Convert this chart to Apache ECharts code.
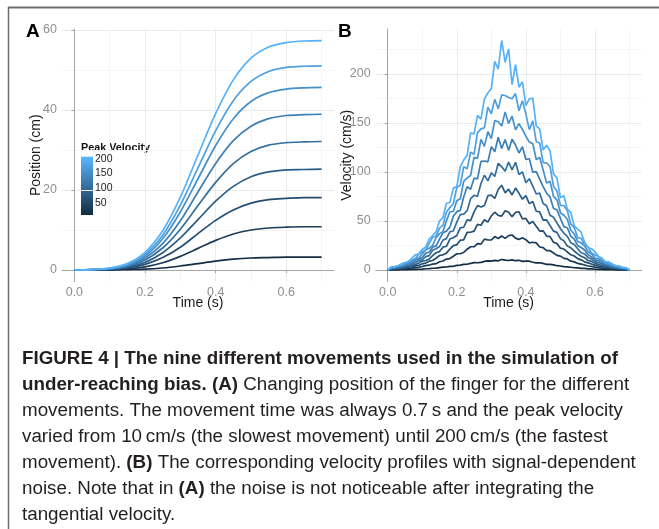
<!DOCTYPE html>
<html>
<head>
<meta charset="utf-8">
<script src="https://cdn.jsdelivr.net/npm/echarts@6/dist/echarts.min.js"></script>
<style>
  html, body { margin: 0; padding: 0; background: #fff; }
  #chart { width: 659px; height: 529px; }
</style>
</head>
<body>
<div id="chart"></div>
<script>
// peak velocity of each of the nine movements (cm/s)
const peakVelocity = [10, 34, 58, 81, 105, 129, 153, 176, 200];

// panel A: position (cm) sampled every 0.05 s
const timeA = [0, 0.05, 0.1, 0.15, 0.2, 0.25, 0.3, 0.35, 0.4, 0.45, 0.5, 0.55, 0.6, 0.65, 0.7];
const pos10 = [0, 0, 0, 0.1, 0.2, 0.5, 1.0, 1.6, 2.2, 2.7, 3.0, 3.1, 3.2, 3.2, 3.2];
const pos34 = [0, 0, 0.1, 0.3, 0.8, 1.8, 3.4, 5.4, 7.4, 9.0, 10.0, 10.5, 10.7, 10.8, 10.8];
const pos58 = [0, 0, 0.2, 0.5, 1.4, 3.1, 5.7, 9.1, 12.4, 15.0, 16.7, 17.6, 17.9, 18.1, 18.1];
const pos81 = [0, 0.1, 0.2, 0.7, 1.9, 4.3, 8.0, 12.6, 17.2, 20.9, 23.3, 24.5, 25.0, 25.1, 25.2];
const pos105 = [0, 0.1, 0.3, 0.9, 2.5, 5.5, 10.2, 16.1, 21.9, 26.6, 29.6, 31.2, 31.8, 32.0, 32.1];
const pos129 = [0, 0.1, 0.3, 1.1, 3.0, 6.6, 12.3, 19.5, 26.6, 32.3, 35.9, 37.8, 38.6, 38.8, 38.9];
const pos153 = [0, 0.1, 0.4, 1.3, 3.5, 7.8, 14.5, 22.8, 31.1, 37.8, 42.1, 44.3, 45.2, 45.5, 45.6];
const pos176 = [0, 0.1, 0.4, 1.4, 3.9, 8.7, 16.2, 25.5, 34.8, 42.3, 47.1, 49.6, 50.6, 50.9, 51.0];
const pos200 = [0, 0.1, 0.5, 1.6, 4.4, 9.8, 18.2, 28.7, 39.1, 47.5, 52.9, 55.7, 56.8, 57.2, 57.3];
const positionCurves = [pos10, pos34, pos58, pos81, pos105, pos129, pos153, pos176, pos200];

// panel B: noisy velocity (cm/s) sampled every 0.01 s
const timeB = [0, 0.01, 0.02, 0.03, 0.04, 0.05, 0.06, 0.07, 0.08, 0.09,
  0.1, 0.11, 0.12, 0.13, 0.14, 0.15, 0.16, 0.17, 0.18, 0.19,
  0.2, 0.21, 0.22, 0.23, 0.24, 0.25, 0.26, 0.27, 0.28, 0.29,
  0.3, 0.31, 0.32, 0.33, 0.34, 0.35, 0.36, 0.37, 0.38, 0.39,
  0.4, 0.41, 0.42, 0.43, 0.44, 0.45, 0.46, 0.47, 0.48, 0.49,
  0.5, 0.51, 0.52, 0.53, 0.54, 0.55, 0.56, 0.57, 0.58, 0.59,
  0.6, 0.61, 0.62, 0.63, 0.64, 0.65, 0.66, 0.67, 0.68, 0.69, 0.7];
const vel10 = [0, 0.1, 0.2, 0.2, 0.3, 0.4, 0.5, 0.6, 0.7, 0.8,
  1.0, 1.3, 1.4, 1.8, 1.9, 2.4, 2.9, 3.1, 3.7, 3.8,
  4.7, 5.0, 5.8, 5.9, 6.7, 7.6, 7.4, 7.7, 8.8, 9.4,
  9.1, 9.9, 9.4, 10.7, 10.1, 9.7, 10.4, 9.5, 9.9, 8.8,
  9.1, 9.0, 7.9, 7.3, 7.4, 6.7, 5.8, 5.7, 5.3, 4.4,
  4.1, 3.4, 3.3, 2.8, 2.3, 2.1, 1.7, 1.6, 1.2, 1.1,
  0.8, 0.7, 0.6, 0.5, 0.4, 0.3, 0.2, 0.2, 0.1, 0.1, 0];
const vel34 = [0, 0.5, 0.6, 0.8, 1.0, 1.3, 1.7, 1.9, 2.4, 2.8,
  3.6, 4.5, 4.9, 6.1, 6.5, 8.4, 9.2, 11.2, 11.7, 14.0,
  16.6, 16.6, 17.9, 21.2, 23.7, 23.7, 26.9, 26.4, 31.5, 30.6,
  30.6, 34.1, 32.2, 34.7, 32.3, 35.0, 35.7, 32.5, 31.2, 32.8,
  30.9, 27.6, 28.3, 27.7, 23.5, 22.8, 19.8, 19.7, 17.3, 14.9,
  14.2, 11.9, 11.3, 9.0, 8.3, 6.7, 6.1, 5.1, 4.1, 3.7,
  2.9, 2.5, 1.9, 1.6, 1.3, 1.0, 0.8, 0.6, 0.5, 0.4, 0];
const vel58 = [0, 0.9, 1.0, 1.4, 1.6, 2.2, 2.9, 3.3, 4.2, 4.7,
  6.3, 7.1, 9.0, 9.7, 12.0, 14.8, 15.5, 17.2, 21.4, 24.9,
  25.7, 30.4, 30.7, 38.4, 38.5, 39.7, 46.5, 45.6, 51.2, 48.9,
  55.2, 58.9, 55.7, 54.9, 60.5, 58.9, 54.4, 58.7, 59.4, 52.2,
  52.6, 47.2, 49.4, 44.5, 39.7, 39.9, 34.6, 34.1, 28.3, 26.9,
  22.3, 21.4, 18.4, 15.5, 14.3, 11.6, 10.4, 8.3, 7.3, 6.1,
  5.0, 4.1, 3.4, 2.6, 2.3, 1.7, 1.3, 1.1, 0.8, 0.7, 0];
const vel81 = [0, 1.3, 1.5, 2.0, 2.3, 3.2, 3.7, 4.9, 5.5, 7.1,
  9.1, 9.7, 11.2, 14.6, 17.6, 18.8, 23.3, 24.2, 31.6, 32.9,
  35.2, 43.0, 43.6, 51.1, 50.4, 59.3, 65.7, 64.2, 65.7, 75.8,
  76.4, 73.0, 82.1, 86.5, 78.6, 82.4, 76.5, 83.6, 78.2, 72.2,
  75.8, 67.7, 69.8, 59.9, 59.3, 50.8, 51.1, 45.3, 39.6, 38.4,
  32.0, 29.7, 24.4, 22.6, 19.4, 16.5, 14.1, 12.4, 9.7, 8.8,
  7.0, 5.5, 4.9, 3.7, 3.1, 2.3, 1.9, 1.6, 1.1, 0.9, 0];
const vel105 = [0, 1.5, 2.1, 2.4, 3.2, 4.3, 4.7, 5.7, 7.7, 9.6,
  10.7, 13.7, 14.7, 20.1, 21.6, 23.9, 30.5, 32.0, 39.0, 39.8,
  48.9, 56.4, 57.0, 60.5, 72.7, 76.2, 75.1, 88.2, 96.7, 90.9,
  99.1, 95.3, 108.8, 105.2, 100.7, 110.1, 102.1, 109.8, 97.3, 100.1,
  89.0, 93.1, 85.6, 77.5, 78.4, 67.8, 65.6, 55.9, 53.8, 48.0,
  42.3, 37.5, 34.3, 27.9, 26.1, 21.6, 17.6, 16.4, 12.7, 11.2,
  8.6, 7.5, 6.4, 4.7, 3.9, 2.9, 2.6, 2.1, 1.5, 1.2, 0];
const vel129 = [0, 1.8, 2.2, 3.2, 4.1, 4.7, 6.3, 7.0, 10.0, 11.2,
  12.7, 17.0, 18.4, 23.3, 24.6, 31.6, 37.9, 39.6, 43.7, 54.8,
  59.5, 60.7, 74.5, 84.9, 82.3, 93.6, 93.0, 110.8, 111.1, 110.3,
  125.8, 120.6, 135.3, 123.9, 133.0, 122.1, 133.4, 127.4, 119.3, 125.8,
  112.7, 113.4, 99.8, 100.3, 92.7, 85.0, 78.3, 74.5, 62.7, 61.4,
  52.6, 44.2, 43.1, 34.6, 31.6, 24.9, 22.9, 20.4, 15.5, 13.4,
  10.4, 9.5, 8.0, 5.9, 5.0, 3.5, 3.2, 2.4, 2.0, 1.4, 0];
const vel153 = [0, 2.3, 2.7, 4.0, 4.6, 5.4, 7.6, 8.5, 11.3, 12.2,
  16.3, 20.5, 22.1, 25.1, 32.9, 37.1, 39.1, 50.1, 59.4, 59.7,
  70.7, 72.6, 90.4, 93.9, 96.4, 114.8, 113.8, 133.1, 126.1, 141.0,
  133.9, 152.5, 151.1, 146.8, 161.2, 149.4, 156.8, 142.9, 149.3, 143.3,
  136.5, 130.4, 129.0, 112.6, 114.8, 101.9, 88.8, 90.4, 75.1, 71.5,
  58.3, 55.8, 51.7, 40.5, 36.7, 29.1, 27.8, 24.6, 18.6, 16.3,
  12.1, 11.4, 8.7, 7.6, 5.4, 4.6, 4.0, 2.7, 2.1, 1.8, 0];
const vel176 = [0, 2.7, 3.1, 4.3, 4.9, 6.8, 8.8, 9.9, 11.7, 16.0,
  18.6, 20.3, 27.2, 33.4, 34.7, 42.7, 45.5, 59.1, 63.6, 67.6,
  84.2, 86.4, 105.4, 103.2, 120.1, 118.0, 140.1, 143.9, 144.9, 166.1,
  159.3, 174.0, 164.1, 178.6, 177.9, 175.8, 174.6, 179.9, 162.4, 172.5,
  158.9, 143.1, 152.0, 130.8, 129.5, 109.4, 109.3, 105.4, 85.4, 80.6,
  66.0, 65.7, 60.4, 47.1, 43.2, 33.0, 32.4, 25.7, 23.3, 17.4,
  15.4, 13.7, 9.8, 7.6, 6.9, 5.7, 4.0, 3.4, 2.4, 2.2, 0];
const vel200 = [0, 3.1, 3.6, 4.4, 6.3, 7.6, 8.6, 12.1, 15.5, 16.5,
  21.2, 23.3, 31.6, 35.2, 38.8, 50.2, 53.5, 68.1, 68.8, 83.5,
  85.0, 105.2, 112.1, 117.0, 139.7, 138.8, 157.7, 153.8, 174.5, 180.5,
  185.2, 212.6, 204.8, 234.0, 211.8, 225.3, 188.9, 209.5, 186.4, 191.9,
  167.7, 174.5, 175.2, 146.7, 143.9, 122.3, 127.2, 121.4, 98.0, 93.7,
  73.8, 75.7, 62.0, 58.7, 45.1, 41.8, 38.6, 28.4, 23.0, 21.7,
  18.5, 13.8, 12.2, 8.7, 8.3, 6.0, 4.5, 4.0, 2.8, 2.3, 0];
const velocityCurves = [vel10, vel34, vel58, vel81, vel105, vel129, vel153, vel176, vel200];

// tick labels
const timeTicks = [0, 0.2, 0.4, 0.6];
const positionTicks = [0, 20, 40, 60];
const velocityTicks = [0, 50, 100, 150, 200];
const legendTicks = [50, 100, 150, 200];

const captionLines = [
  '{b|FIGURE 4 | The nine different movements used in the simulation of}',
  '{b|under-reaching bias. (A)} Changing position of the finger for the different',
  'movements. The movement time was always 0.7\u2009s and the peak velocity',
  'varied from 10\u2009cm/s (the slowest movement) until 200\u2009cm/s (the fastest',
  'movement). {b|(B)} The corresponding velocity profiles with signal-dependent',
  'noise. Note that in {b|(A)} the noise is not noticeable after integrating the',
  'tangential velocity.'
];

// ggplot default continuous colour scale
const lowColor = [19, 43, 67];
const highColor = [86, 177, 247];
function velColor(v) {
  const f = (v - 10) / (200 - 10);
  const c = lowColor.map((a, i) => Math.round(a + (highColor[i] - a) * f));
  return 'rgb(' + c.join(',') + ')';
}

const FONT = 'Liberation Sans';
const tickColor = '#a6a6a6';
const tickText = '#8f8f8f';

function xAxisFor(gridIndex) {
  return {
    type: 'value', gridIndex: gridIndex,
    min: -0.035, max: 0.735, splitNumber: 5,
    name: 'Time (s)', nameLocation: 'middle', nameGap: 14.5, nameMoveOverlap: false,
    nameTextStyle: { fontFamily: FONT, fontSize: 14, color: '#1a1a1a' },
    axisLine: { show: true, lineStyle: { color: tickColor, width: 1 } },
    axisTick: { show: true, length: 3, customValues: timeTicks, lineStyle: { color: tickColor } },
    axisLabel: {
      customValues: timeTicks, margin: 5, fontFamily: FONT, fontSize: 12.5, color: tickText,
      formatter: v => v.toFixed(1)
    },
    splitLine: { show: true, lineStyle: { color: '#ebebeb', width: 1 } },
    minorTick: { show: false, splitNumber: 2 },
    minorSplitLine: { show: true, lineStyle: { color: '#f5f5f5', width: 1 } }
  };
}

function yAxisFor(gridIndex, opts) {
  return {
    type: 'value', gridIndex: gridIndex,
    min: opts.min, max: opts.max, splitNumber: opts.splitNumber,
    name: opts.name, nameLocation: 'middle', nameGap: opts.nameGap, nameMoveOverlap: false,
    nameTextStyle: { fontFamily: FONT, fontSize: 14, color: '#1a1a1a' },
    axisLine: { show: true, lineStyle: { color: tickColor, width: 1 } },
    axisTick: { show: true, length: 3, customValues: opts.ticks, lineStyle: { color: tickColor } },
    axisLabel: { customValues: opts.ticks, margin: 5, fontFamily: FONT, fontSize: 12.5, color: tickText },
    splitLine: { show: true, lineStyle: { color: '#ebebeb', width: 1 } },
    minorTick: { show: false, splitNumber: 2 },
    minorSplitLine: { show: true, lineStyle: { color: '#f5f5f5', width: 1 } }
  };
}

const series = [];
positionCurves.forEach((arr, i) => {
  series.push({
    type: 'line', xAxisIndex: 0, yAxisIndex: 0, showSymbol: false, smooth: 0.3,
    lineStyle: { width: 1.7, color: velColor(peakVelocity[i]) },
    data: timeA.map((t, k) => [t, arr[k]])
  });
});
velocityCurves.forEach((arr, i) => {
  series.push({
    type: 'line', xAxisIndex: 1, yAxisIndex: 1, showSymbol: false,
    lineStyle: { width: 1.7, color: velColor(peakVelocity[i]) },
    data: timeB.map((t, k) => [t, arr[k]])
  });
});

const graphics = [
  // figure frame
  { type: 'line', shape: { x1: 8, y1: 7.5, x2: 659, y2: 7.5 }, style: { stroke: '#6e6e6e', lineWidth: 2 } },
  { type: 'line', shape: { x1: 8.5, y1: 7, x2: 8.5, y2: 529 }, style: { stroke: '#6e6e6e', lineWidth: 1.5 } },
  // panel letters
  { type: 'text', style: { x: 26, y: 31.7, text: 'A', fontFamily: FONT, fontWeight: 'bold', fontSize: 19, fill: '#000', verticalAlign: 'middle' } },
  { type: 'text', style: { x: 338, y: 32, text: 'B', fontFamily: FONT, fontWeight: 'bold', fontSize: 19, fill: '#000', verticalAlign: 'middle' } },
  // legend title
  { type: 'text', style: { x: 81, y: 148.5, text: 'Peak Velocity', fontFamily: FONT, fontWeight: 'bold', fontSize: 10.8, fill: '#111', verticalAlign: 'middle' } }
];
captionLines.forEach((line, i) => {
  graphics.push({
    type: 'text',
    style: {
      x: 22, y: 365 - 6.6 + i * 26, text: line, verticalAlign: 'middle',
      fontFamily: FONT, fontSize: 18.8, fill: '#231f20',
      rich: { b: { fontFamily: FONT, fontSize: 18.8, fontWeight: 'bold', fill: '#231f20' } }
    }
  });
});

const chart = echarts.init(document.getElementById('chart'), null, { renderer: 'canvas' });
chart.setOption({
  animation: false,
  backgroundColor: '#fff',
  grid: [
    { left: 62, top: 29, width: 272, height: 252.5 },
    { left: 375.6, top: 29, width: 266, height: 252.5 },
    {
      left: 81, top: 156.7, width: 12, height: 58.3, show: true, borderWidth: 0,
      backgroundColor: new echarts.graphic.LinearGradient(0, 1, 0, 0, [
        { offset: 0, color: velColor(8) },
        { offset: 1, color: velColor(208) }
      ])
    }
  ],
  xAxis: [
    xAxisFor(0),
    xAxisFor(1),
    { type: 'value', gridIndex: 2, min: 0, max: 1, show: false }
  ],
  yAxis: [
    yAxisFor(0, { min: -2.87, max: 60.2, splitNumber: 3, ticks: positionTicks, name: 'Position (cm)', nameGap: 19 }),
    yAxisFor(1, { min: -11.7, max: 245.7, splitNumber: 5, ticks: velocityTicks, name: 'Velocity (cm/s)', nameGap: 21 }),
    {
      type: 'value', gridIndex: 2, position: 'right', min: 8, max: 208,
      axisLine: { show: false },
      axisTick: { show: true, inside: true, length: 2.5, customValues: legendTicks, lineStyle: { color: '#fff' } },
      axisLabel: { customValues: legendTicks, margin: 2, fontFamily: FONT, fontSize: 10.5, color: '#1a1a1a' },
      splitLine: { show: false }
    }
  ],
  graphic: graphics,
  series: series
});
</script>
</body>
</html>
